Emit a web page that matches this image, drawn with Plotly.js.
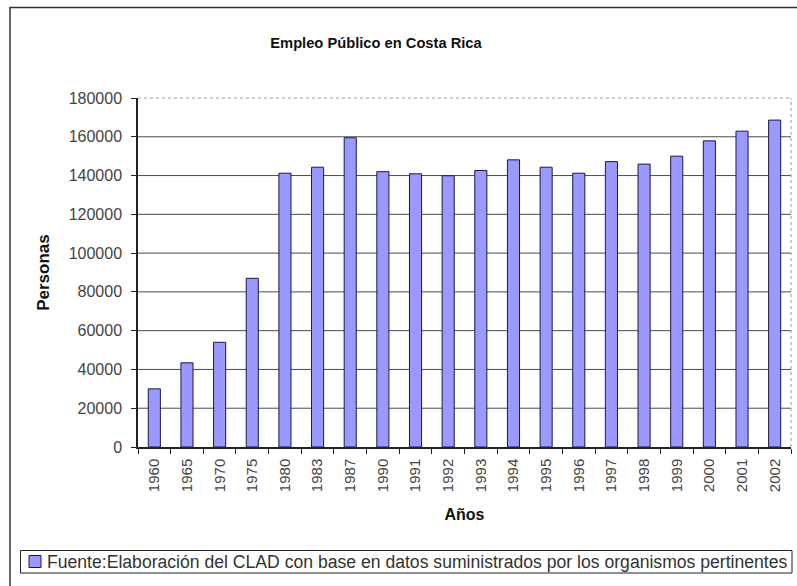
<!DOCTYPE html>
<html>
<head>
<meta charset="utf-8">
<script src="https://cdn.plot.ly/plotly-3.0.1.min.js"></script>
<style>
  html, body { margin: 0; padding: 0; background: #fff; }
  #chart { width: 797px; height: 586px; }
</style>
</head>
<body>
<div id="chart"></div>
<script>
// ---- data ----
const years = ['1960','1965','1970','1975','1980','1983','1987','1990','1991','1992',
               '1993','1994','1995','1996','1997','1998','1999','2000','2001','2002'];
const personas = [30000, 43400, 54000, 87000, 141200, 144300, 159500, 142000, 140900, 139900,
                  142600, 148100, 144300, 141200, 147200, 145900, 150000, 157900, 162900, 168600];
const yTicks = [0, 20000, 40000, 60000, 80000, 100000, 120000, 140000, 160000, 180000];
const seriesName = 'Fuente:Elaboración del CLAD con base en datos suministrados por los organismos pertinentes';
const chartTitle = 'Empleo Público en Costa Rica';
const xTitle = 'Años';
const yTitle = 'Personas';

// ---- layout helpers ----
const W = 797, H = 586;
const M = { l: 138, r: 6, t: 98, b: 139 };
const PW = W - M.l - M.r, PH = H - M.t - M.b;
const px2x = p => (p - M.l) / PW;
const px2y = p => (H - M.b - p) / PH;
const FONT = '"Liberation Sans", Arial, sans-serif';
const BAR_FILL = '#9999ff';
const BAR_EDGE = '#1a1a40';

const gridShapes = yTicks.slice(1, -1).map(v => ({
  type: 'line', xref: 'paper', yref: 'y', x0: 0, x1: 1, y0: v, y1: v,
  line: { color: '#4a4a4a', width: 1 }, layer: 'below'
}));

const shapes = gridShapes.concat([
  // plot area border (top & right dotted gray)
  { type: 'line', xref: 'paper', yref: 'paper', x0: 0, x1: 1, y0: 1, y1: 1,
    line: { color: '#9a9a9a', width: 1, dash: 'dot' }, layer: 'below' },
  { type: 'line', xref: 'paper', yref: 'paper', x0: 1, x1: 1, y0: 0, y1: 1,
    line: { color: '#9a9a9a', width: 1, dash: 'dot' }, layer: 'below' },
  // outer chart border
  { type: 'rect', xref: 'paper', yref: 'paper',
    x0: px2x(10), x1: px2x(830), y0: px2y(7.5), y1: px2y(620),
    line: { color: '#333', width: 1.5 }, layer: 'below' },
  // legend box
  { type: 'rect', xref: 'paper', yref: 'paper',
    x0: px2x(20.5), x1: px2x(792), y0: px2y(550.5), y1: px2y(573),
    line: { color: '#222', width: 1 }, fillcolor: 'rgba(0,0,0,0)' },
  // legend key
  { type: 'rect', xref: 'paper', yref: 'paper',
    x0: px2x(29), x1: px2x(41), y0: px2y(555.5), y1: px2y(567.5),
    line: { color: BAR_EDGE, width: 1 }, fillcolor: BAR_FILL }
]);

const trace = {
  type: 'bar',
  x: years,
  y: personas,
  name: seriesName,
  marker: { color: BAR_FILL, line: { color: BAR_EDGE, width: 1 } },
  showlegend: false,
  hoverinfo: 'x+y'
};

const layout = {
  width: W, height: H,
  margin: M,
  paper_bgcolor: '#fff',
  plot_bgcolor: '#fff',
  font: { family: FONT, color: '#333' },
  title: {
    text: chartTitle,
    font: { family: FONT, size: 14.7, color: '#111', weight: 'bold' },
    xref: 'container', yref: 'container',
    x: 376 / W, xanchor: 'center',
    y: 1 - 42.5 / H, yanchor: 'middle'
  },
  bargap: 0.63,
  xaxis: {
    type: 'category',
    tickangle: -90,
    tickson: 'boundaries',
    ticks: 'outside', ticklen: 5, tickcolor: '#222', tickwidth: 1,
    ticklabelstandoff: 4,
    showline: true, linecolor: '#222', linewidth: 1.5,
    showgrid: false,
    tickfont: { family: FONT, size: 15, color: '#444' },
    title: { text: xTitle, font: { family: FONT, size: 16, color: '#111', weight: 'bold' }, standoff: 18 },
    fixedrange: true
  },
  yaxis: {
    range: [0, 180000],
    tickvals: yTicks,
    ticktext: yTicks.map(String),
    ticks: 'outside', ticklen: 5, tickcolor: '#222', tickwidth: 1,
    ticklabelstandoff: 6,
    showline: true, linecolor: '#222', linewidth: 1.5,
    showgrid: false,
    zeroline: false,
    tickfont: { family: FONT, size: 16, color: '#444' },
    title: { text: yTitle, font: { family: FONT, size: 17, color: '#111', weight: 'bold' }, standoff: 15 },
    fixedrange: true
  },
  showlegend: false,
  annotations: [{
    text: seriesName,
    xref: 'paper', yref: 'paper',
    x: px2x(45), xanchor: 'left',
    y: px2y(561.5), yanchor: 'middle',
    showarrow: false,
    font: { family: FONT, size: 17.6, color: '#333' }
  }],
  shapes: shapes
};

Plotly.newPlot('chart', [trace], layout, { displayModeBar: false });
</script>
</body>
</html>
